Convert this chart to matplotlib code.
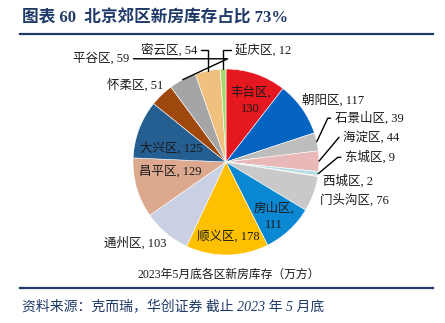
import numpy as np
import matplotlib
matplotlib.use("Agg")
import matplotlib.pyplot as plt

plt.rcParams['font.family'] = ['Liberation Serif', 'Noto Sans CJK SC', 'DejaVu Sans']

# data, clockwise from 12 o'clock
districts = ["丰台区", "朝阳区", "石景山区", "海淀区", "东城区", "西城区", "门头沟区",
             "房山区", "顺义区", "通州区", "昌平区", "大兴区", "怀柔区", "平谷区",
             "密云区", "延庆区"]
stock = [130, 117, 39, 44, 9, 2, 76, 111, 178, 103, 129, 125, 51, 59, 54, 12]
colors = ["#E5171F", "#0563C1", "#BDBDBD", "#E8B9B8", "#B5DDE8", "#F4B183", "#C9C9C9",
          "#0A88D2", "#FFC000", "#CAD0E4", "#DDA98E", "#255E91", "#9E480E", "#A5A5A5",
          "#F0C07E", "#A9D86E"]

# label layout: (x, y, ha, two_lines, leader connection angle or None)
layout = {
    "丰台区": (0.26, 0.66, "center", True, None),
    "朝阳区": (1.15, 0.67, "center", False, None),
    "石景山区": (1.17, 0.47, "left", False, 65),
    "海淀区": (1.26, 0.27, "left", False, 50),
    "东城区": (1.28, 0.05, "left", False, 40),
    "西城区": (1.04, -0.20, "left", False, None),
    "门头沟区": (1.01, -0.41, "left", False, None),
    "房山区": (0.51, -0.58, "center", True, None),
    "顺义区": (0.02, -0.80, "center", False, None),
    "通州区": (-0.98, -0.87, "center", False, None),
    "昌平区": (-0.60, -0.10, "center", False, None),
    "大兴区": (-0.59, 0.15, "center", False, None),
    "怀柔区": (-0.98, 0.83, "center", False, None),
    "平谷区": (-1.04, 1.11, "right", False, 25),
    "密云区": (-0.31, 1.20, "right", False, 90),
    "延庆区": (0.10, 1.20, "left", False, 90),
}

W, H = 445, 323
fig = plt.figure(figsize=(W / 100, H / 100), dpi=100)

cx, cy, r = 226, 162, 93
ax = fig.add_axes([(cx - r) / W, (H - cy - r) / H, 2 * r / W, 2 * r / H])
wedges, _ = ax.pie(stock, colors=colors, startangle=90, counterclock=False,
                   wedgeprops=dict(edgecolor="white", linewidth=0.4))
ax.set_xlim(-1, 1)
ax.set_ylim(-1, 1)
ax.set_aspect("equal")
ax.axis("off")

for w, name, val in zip(wedges, districts, stock):
    x, y, ha, two, conn = layout[name]
    txt = f"{name},\n{val}" if two else f"{name}, {val}"
    mid = np.deg2rad((w.theta1 + w.theta2) / 2)
    edge = (np.cos(mid), np.sin(mid))
    kw = dict(ha=ha, va="center", fontsize=9, color="#1a1a1a", linespacing=1.45,
              annotation_clip=False)
    if conn is None:
        ax.annotate(txt, xy=(x, y), **kw)
    else:
        cs = f"angle,angleA=0,angleB={conn},rad=0"
        ax.annotate(txt, xy=edge, xytext=(x, y),
                    arrowprops=dict(arrowstyle="-", color="black", lw=1.0,
                                    connectionstyle=cs, shrinkA=1, shrinkB=0),
                    **kw)

navy = "#1F3A68"
fig.text(22 / W, 1 - 18 / H, "图表 60  北京郊区新房库存占比 73%", fontsize=12,
         fontweight="bold", color=navy, va="center", ha="left")
fig.add_artist(plt.Line2D([20 / W, 433 / W], [1 - 34 / H, 1 - 34 / H], color=navy, lw=1.6))
fig.add_artist(plt.Line2D([20 / W, 433 / W], [1 - 288 / H, 1 - 288 / H], color=navy, lw=1.6))
fig.text(229 / W, 1 - 275 / H, "2023年5月底各区新房库存（万方）", fontsize=8.5,
         color="#1a1a1a", ha="center", va="center")
fig.text(22 / W, 1 - 306 / H, "资料来源：克而瑞，华创证券 截止 2023 年 5 月底", fontsize=10,
         style="italic", color=navy, ha="left", va="center")

fig.savefig("out.png", dpi=100)
